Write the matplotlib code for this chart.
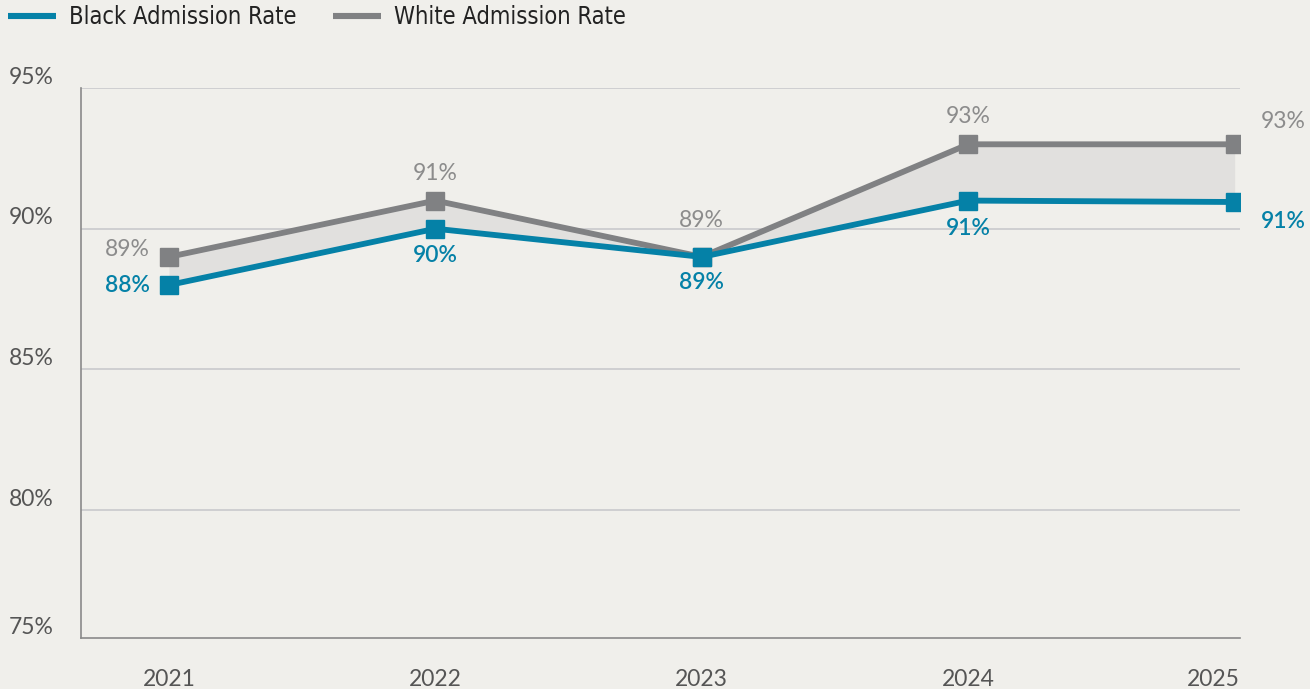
import matplotlib.pyplot as plt
import matplotlib.transforms as mtransforms
from matplotlib.lines import Line2D

# data
years = ["2021", "2022", "2023", "2024", "2025"]
black_rate = [88, 90, 89, 91, 90.95]
white_rate = [89, 91, 89, 93, 93]
black_labels = ["88%", "90%", "89%", "91%", "91%"]
white_labels = ["89%", "91%", "89%", "93%", "93%"]
y_ticks = [75, 80, 85, 90, 95]
series_names = ["Black Admission Rate", "White Admission Rate"]

BLUE = "#0581a7"
GRAY = "#808183"
FILL = "#e1e0de"
BG = "#f0efeb"
TEXT = "#555555"
FONT = ["Lato", "DejaVu Sans"]

W, H = 1310, 689
fig = plt.figure(figsize=(W / 100, H / 100), dpi=100, facecolor=BG)
ax = fig.add_axes([81 / W, 1 - 638 / H, (1240 - 81) / W, (638 - 88) / H])
ax.set_facecolor(BG)

x = list(range(len(years)))
ax.fill_between(x, black_rate, white_rate, color=FILL, lw=0, zorder=1)
ax.plot(x, white_rate, color=GRAY, lw=4.2, marker="s", ms=13, zorder=3)
ax.plot(x, black_rate, color=BLUE, lw=4.2, marker="s", ms=13, zorder=4)

ax.set_xlim(-0.33, 4.02)
ax.set_ylim(75.46, 95)

# grid + spines
ax.set_yticks(y_ticks[1:])
ax.yaxis.grid(True, color="#c9c9cc", lw=1.2, zorder=0)
ax.set_axisbelow(True)
ax.tick_params(axis="y", length=0, labelleft=False)
for s in ["top", "right"]:
    ax.spines[s].set_visible(False)
for s in ["left", "bottom"]:
    ax.spines[s].set_color("#8a8a8a")
    ax.spines[s].set_linewidth(1.2)

# y labels sit just above their gridline
trans = mtransforms.blended_transform_factory(fig.transFigure, ax.transData)
trans = mtransforms.offset_copy(trans, fig=fig, y=11, units="dots")
for t in y_ticks:
    ax.text(9 / W, max(t, ax.get_ylim()[0]), f"{t}%", transform=trans,
            ha="left", va="center", fontsize=16.5, color=TEXT, family=FONT,
            clip_on=False)

ax.set_xticks(x, years)
ax.tick_params(axis="x", length=0, pad=22, labelsize=16.5, labelcolor=TEXT)
xlabs = ax.get_xticklabels()
for lab in xlabs:
    lab.set_family(FONT)
# last year label is flush with the right end of the axis
xlabs[-1].set_ha("right")
xlabs[-1].set_transform(xlabs[-1].get_transform()
                        + mtransforms.ScaledTranslation(5 / 100, 0, fig.dpi_scale_trans))

# point labels (pixel offsets from each marker)
white_off = [(-19, 7, "right"), (0, 27, "center"), (0, 36, "center"),
             (0, 28, "center"), (26, 23, "left")]
black_off = [(-19, 0, "right"), (0, -27, "center"), (0, -26, "center"),
             (0, -28, "center"), (26, -20, "left")]
for i in x:
    dx, dy, ha = white_off[i]
    ax.annotate(white_labels[i], (i, white_rate[i]), xytext=(dx, dy),
                textcoords="offset pixels", ha=ha, va="center", fontsize=16.5,
                color="#8c8c8c", family=FONT, annotation_clip=False)
    dx, dy, ha = black_off[i]
    ax.annotate(black_labels[i], (i, black_rate[i]), xytext=(dx, dy),
                textcoords="offset pixels", ha=ha, va="center", fontsize=16.5,
                color=BLUE, family=FONT, fontweight="semibold",
                annotation_clip=False)

handles = [Line2D([], [], color=BLUE, lw=4.4, solid_capstyle="butt"),
           Line2D([], [], color=GRAY, lw=4.4, solid_capstyle="butt")]
fig.legend(handles, series_names, loc="upper left",
           bbox_to_anchor=(8 / W, 1 - 5 / H), ncol=2, frameon=False,
           borderpad=0, borderaxespad=0, handlelength=2.03,
           handletextpad=0.55, columnspacing=1.57,
           prop={"family": "DejaVu Sans", "stretch": "condensed", "size": 17},
           labelcolor="#222222")

fig.savefig("out.png", dpi=100, facecolor=BG)
